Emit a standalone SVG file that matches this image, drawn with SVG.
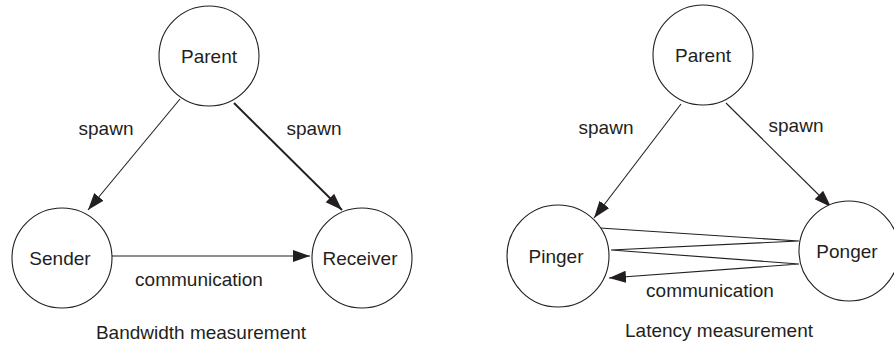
<svg xmlns="http://www.w3.org/2000/svg" width="894" height="347" viewBox="0 0 894 347">
<style>
.node circle{fill:#fff;stroke:#231f20;stroke-width:1.1}
text{font-family:"Liberation Sans",Arial,sans-serif;font-size:19px;fill:#231f20;text-anchor:middle}
.edge{stroke:#231f20;stroke-width:1.1;fill:none}
.bold{stroke-width:1.9}
.arr{marker-end:url(#ah)}
</style>
<defs>
<marker id="ah" markerUnits="userSpaceOnUse" markerWidth="20" markerHeight="14" refX="17" refY="6" orient="auto">
<path d="M0,0 L17,6 L0,12 Z" fill="#231f20"/>
</marker>
</defs>
<rect width="894" height="347" fill="#fff"/>
<g id="connectors">
<line class="edge arr" x1="180" y1="99" x2="88" y2="210"/>
<line class="edge bold arr" x1="234" y1="103" x2="342" y2="210"/>
<line class="edge arr" x1="112" y1="256" x2="310" y2="256"/>
<line class="edge arr" x1="681" y1="104" x2="594" y2="218"/>
<line class="edge arr" x1="726" y1="103" x2="831" y2="207"/>
<polyline class="edge arr" points="600,228 799,241 611,250 799,264 609,278"/>
</g>
<g id="left-parent" class="node"><circle cx="209" cy="56" r="50"/><text x="209" y="63">Parent</text></g>
<g id="sender" class="node"><circle cx="62" cy="258" r="50"/><text x="60" y="265">Sender</text></g>
<g id="receiver" class="node"><circle cx="362" cy="258" r="50"/><text x="360" y="265">Receiver</text></g>
<g id="right-parent" class="node"><circle cx="703" cy="55" r="50"/><text x="703" y="62">Parent</text></g>
<g id="pinger" class="node"><circle cx="558" cy="256" r="51"/><text x="556" y="263">Pinger</text></g>
<g id="ponger" class="node"><circle cx="849" cy="251" r="50"/><text x="847" y="258">Ponger</text></g>
<g id="labels">
<text x="106" y="135">spawn</text>
<text x="314" y="135">spawn</text>
<text x="199" y="286">communication</text>
<text x="201" y="339">Bandwidth measurement</text>
<text x="606" y="134">spawn</text>
<text x="796" y="132">spawn</text>
<text x="710" y="297">communication</text>
<text x="719" y="337">Latency measurement</text>
</g>
</svg>
